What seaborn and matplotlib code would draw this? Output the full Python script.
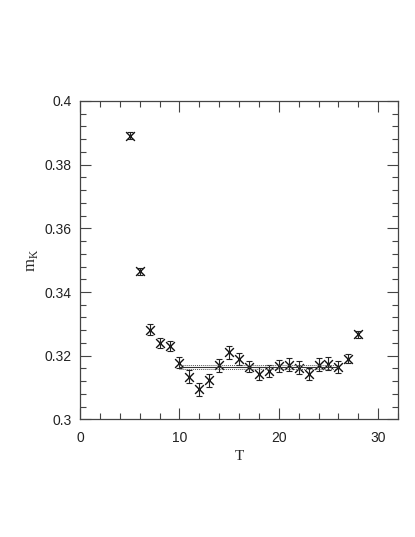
import numpy as np
import pandas as pd
import seaborn as sns
import matplotlib
matplotlib.use("Agg")
import matplotlib.pyplot as plt
from matplotlib.ticker import MultipleLocator

sns.set_style("ticks")
plt.rcParams["font.family"] = ["Liberation Sans", "DejaVu Sans"]
plt.rcParams["mathtext.fontset"] = "custom"
plt.rcParams["mathtext.rm"] = "Liberation Serif"

T = [5, 6, 7, 8, 9, 10, 11, 12, 13, 14, 15, 16, 17, 18, 19, 20, 21, 22, 23, 24, 25, 26, 27, 28]
m_K = [0.3891, 0.3465, 0.3282, 0.3240, 0.3230, 0.3178, 0.3134, 0.3094, 0.3123, 0.3170,
       0.3211, 0.3190, 0.3165, 0.3144, 0.3151, 0.3167, 0.3172, 0.3162, 0.3143, 0.3172,
       0.3175, 0.3164, 0.3191, 0.3267]
err = [0.0010, 0.0010, 0.0018, 0.0017, 0.0016, 0.0018, 0.0020, 0.0019, 0.0021, 0.0021,
       0.0021, 0.0018, 0.0017, 0.0020, 0.0019, 0.0019, 0.0020, 0.0020, 0.0019, 0.0020,
       0.0021, 0.0019, 0.0015, 0.0011]
fit_range = [10, 26]
fit_value = 0.3165
fit_err = 0.0007

df = pd.DataFrame({"T": T, "m_K": m_K, "err": err})

fig = plt.figure(figsize=(4.15, 5.37), dpi=100)
ax = fig.add_axes([0.193, 0.219, 0.766, 0.593])

ax.errorbar(df["T"], df["m_K"], yerr=df["err"], fmt="none", ecolor="#222222",
            elinewidth=0.8, capsize=2.5, capthick=0.8)
sns.scatterplot(data=df, x="T", y="m_K", marker="x", s=40, color="#111111",
                linewidth=1.0, ax=ax, legend=False)

ax.plot(fit_range, [fit_value, fit_value], color="#333333", lw=0.8)
ax.plot(fit_range, [fit_value + fit_err] * 2, color="#555555", lw=0.7, ls=(0, (1, 1)))
ax.plot(fit_range, [fit_value - fit_err] * 2, color="#555555", lw=0.7, ls=(0, (1, 1)))

ax.set_xlim(0, 32)
ax.set_ylim(0.3, 0.4)
ax.xaxis.set_major_locator(MultipleLocator(10))
ax.xaxis.set_minor_locator(MultipleLocator(2))
ax.yaxis.set_minor_locator(MultipleLocator(0.004))
ax.set_yticks([0.3, 0.32, 0.34, 0.36, 0.38, 0.4])
ax.set_yticklabels(["0.3", "0.32", "0.34", "0.36", "0.38", "0.4"])
ax.tick_params(which="both", direction="in", top=True, right=True, color="#444444",
               labelsize=10, width=0.8, labelcolor="#222222")
ax.tick_params(which="major", length=8)
ax.tick_params(axis="x", which="major", pad=8)
ax.tick_params(axis="y", which="major", pad=6)
ax.tick_params(which="minor", length=4)
for s in ax.spines.values():
    s.set_color("#444444")
    s.set_linewidth(0.9)

ax.set_xlabel("T", fontsize=11, labelpad=4, family="Liberation Serif")
ax.set_ylabel("m$_{\\mathrm{K}}$", fontsize=12, labelpad=3, family="Liberation Serif")

fig.savefig("out.png", dpi=100)
